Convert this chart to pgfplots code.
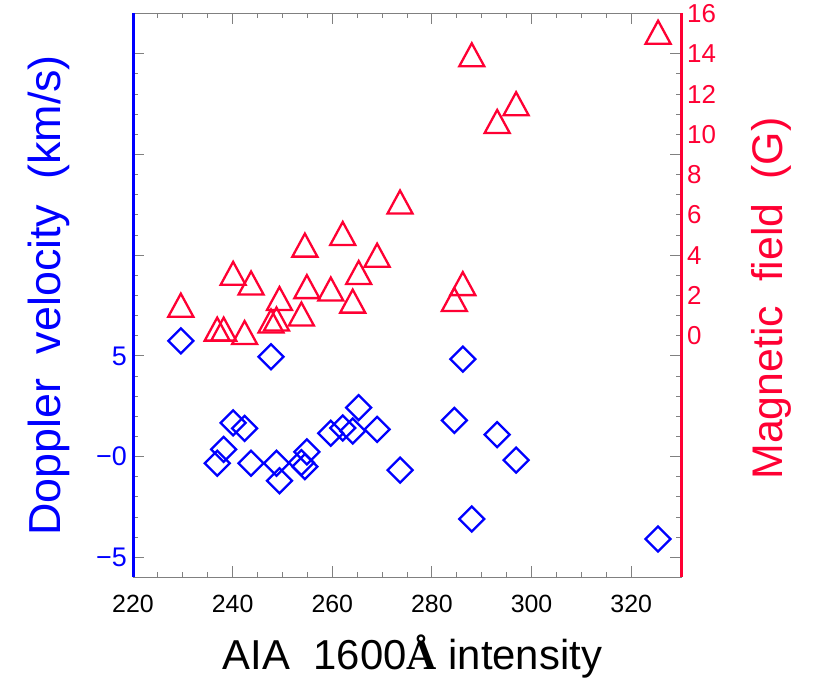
\documentclass[border=0pt]{standalone}
\usepackage{fontspec}
\setmainfont{Liberation Sans}
\newfontfamily\serifA{Liberation Serif}
\usepackage{pgfplots}
\pgfplotsset{compat=1.18}
\usepackage{pgfplotstable}
\definecolor{idlblue}{RGB}{0,0,255}
\definecolor{idlred}{RGB}{255,0,51}
\definecolor{idlgray}{RGB}{128,128,128}

\pgfdeclareplotmark{idldiamond}{%
  \pgfpathmoveto{\pgfqpoint{0pt}{\pgfplotmarksize}}%
  \pgfpathlineto{\pgfqpoint{\pgfplotmarksize}{0pt}}%
  \pgfpathlineto{\pgfqpoint{0pt}{-\pgfplotmarksize}}%
  \pgfpathlineto{\pgfqpoint{-\pgfplotmarksize}{0pt}}%
  \pgfpathclose\pgfusepathqstroke}
\pgfdeclareplotmark{idltri}{%
  \pgfpathmoveto{\pgfqpoint{0pt}{0.92\pgfplotmarksize}}%
  \pgfpathlineto{\pgfqpoint{\pgfplotmarksize}{-0.92\pgfplotmarksize}}%
  \pgfpathlineto{\pgfqpoint{-\pgfplotmarksize}{-0.92\pgfplotmarksize}}%
  \pgfpathclose\pgfusepathqstroke}

\pgfplotstableread{
x v b
229.6 5.75 1.52
247.7 4.96 0.73
286.2 4.84 2.59
284.5 1.80 1.80
240.1 1.68 3.10
242.4 1.40 0.16
238.2 0.36 0.33
236.9 -0.33 0.33
243.7 -0.33 2.62
248.8 -0.33 0.83
249.4 -1.20 1.85
254.9 0.24 2.44
253.8 -0.30 1.08
254.5 -0.50 4.50
259.7 1.16 2.32
262.1 1.42 5.08
264.1 1.27 1.72
265.3 2.43 3.14
269.0 1.35 4.00
273.6 -0.67 6.64
293.1 1.09 10.64
296.9 -0.17 11.52
288.0 -3.10 13.95
325.4 -4.09 15.07
}\datatab

\begin{document}
\begin{tikzpicture}[x=1bp,y=1bp]
\useasboundingbox (0,0) rectangle (830,680);
\begin{axis}[
  at={(133bp,102.5bp)}, anchor=south west,
  scale only axis, width=548bp, height=564bp,
  xmin=220, xmax=330, ymin=-6, ymax=22,
  clip=false,
  axis line style={idlgray, line width=1bp},
  xtick pos=both, ytick pos=both,
  xtick={220,240,...,320}, xticklabels={220,240,260,280,300,320},
  minor x tick num=3,
  ytick={-5,0,5,10,15,20}, yticklabels={−5,−0,5,{},{},{}},
  minor y tick num=4,
  tick align=inside,
  major tick length=11bp, minor tick length=5bp,
  tick style={idlgray, line width=1bp},
  xticklabel style={font=\fontsize{25}{25}\selectfont, text=black, anchor=base, yshift=-35.5bp},
  yticklabel style={font=\fontsize{27}{27}\selectfont, text=idlblue, anchor=east, inner sep=0pt, xshift=-6bp},
  every axis x label/.style={at={(axis description cs:0.51,-0.164)}, anchor=base, font=\fontsize{42}{42}\selectfont, text=black},
  xlabel={AIA\ \ 1600{\serifA\bfseries Å}\ intensity},
  every axis y label/.style={at={(axis description cs:-0.1332,0.5)}, anchor=base, rotate=90, font=\fontsize{45}{45}\selectfont, text=idlblue},
  ylabel={Doppler\ \ velocity\ \ (km/s)},
]
\addplot[only marks, mark=idldiamond, mark size=12.5bp, idlblue, line width=2.3bp] table[x=x,y=v]{\datatab};
\end{axis}
\begin{axis}[
  at={(133bp,102.5bp)}, anchor=south west,
  scale only axis, width=548bp, height=564bp,
  xmin=220, xmax=330, ymin=-12, ymax=16,
  clip=false,
  axis x line=none,
  axis y line*=right,
  y axis line style={idlred, line width=3bp, -},
  ytick={0,2,...,16}, yticklabels={0,2,4,6,8,10,12,14,16},
  major tick length=0pt, minor tick length=0pt,
  yticklabel style={font=\fontsize{26}{26}\selectfont, text=idlred, anchor=west, inner sep=0pt, xshift=6bp},
  every axis y label/.style={at={(axis description cs:1.1843,0.4945)}, anchor=base, rotate=90, font=\fontsize{43}{43}\selectfont, text=idlred},
  ylabel={Magnetic\ \ field\ \ (G)},
  after end axis/.code={
    \draw[idlblue, line width=3bp] (rel axis cs:0,0) -- (rel axis cs:0,1);
    \draw[idlred, line width=3bp] (rel axis cs:1,0) -- (rel axis cs:1,1);
  },
]
\addplot[only marks, mark=idltri, mark size=12.5bp, idlred, line width=2.3bp] table[x=x,y=b]{\datatab};
\end{axis}
\end{tikzpicture}
\end{document}
